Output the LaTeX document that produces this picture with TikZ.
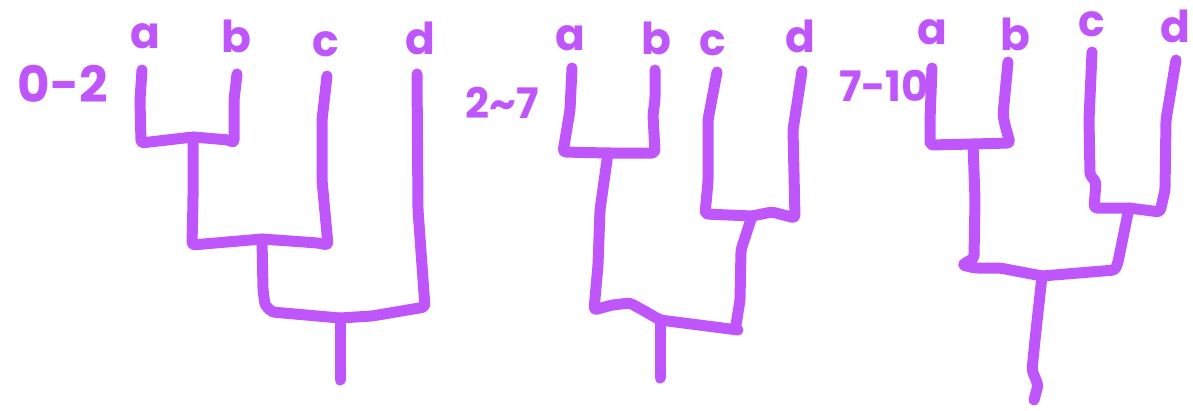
\documentclass[tikz,border=0pt]{standalone}
\usepackage{fontspec}
\setmainfont{Poppins}
\definecolor{pen}{RGB}{191,86,252}
\begin{document}
\begin{tikzpicture}[x=1pt,y=-1pt,
  stroke/.style={draw=pen,line width=11pt,line cap=round,line join=round,rounded corners=3pt},
  lbl/.style={text=pen,font=\bfseries\fontsize{44}{44}\selectfont,inner sep=0pt},
  rng/.style={text=pen,font=\bfseries\fontsize{42}{42}\selectfont,inner sep=0pt}]
\useasboundingbox (0,0) rectangle (1193,410);
% ---------- tree 1 ----------
\node[lbl] (a1) at (145,36) {a};
\node[lbl] (b1) at (236,36) {b};
\node[lbl] (c1) at (326,44) {c};
\node[lbl] (d1) at (420,38) {d};
\node[rng,font=\bfseries\fontsize{50}{50}\selectfont] (r1) at (63,84) {0-2};
\coordinate (a1t) at (142,70);
\coordinate (b1t) at (237,74);
\coordinate (c1t) at (327,76);
\coordinate (d1t) at (417,74);
\coordinate (ab1) at (193,137);
\coordinate (abc1) at (262,239);
\coordinate (root1) at (340,318);
\coordinate (root1e) at (340,380);
\draw[stroke] (a1t) -- (140,100) -- (141,143) -- (ab1) -- (229,140) -- (234,143) -- (234,100) -- (b1t);
\draw[stroke] (ab1) -- (193,200) -- (192,245) -- (abc1) -- (318,243) -- (328,245) -- (322,180) -- (322,120) -- (c1t);
\draw[stroke] (abc1) -- (263,290) -- (265,305) -- (272,312) -- (root1) -- (372,316) -- (425,307) -- (418,210) -- (d1t);
\draw[stroke] (root1) -- (root1e);
% ---------- tree 2 ----------
\node[lbl] (a2) at (570,38) {a};
\node[lbl] (b2) at (656,38) {b};
\node[lbl] (c2) at (713,43) {c};
\node[lbl] (d2) at (800,36) {d};
\node[rng] (r2) at (502,103) {2\string~7};
\coordinate (a2t) at (572,68);
\coordinate (b2t) at (655,70);
\coordinate (c2t) at (717,72);
\coordinate (d2t) at (802,71);
\coordinate (ab2) at (608,153);
\coordinate (cd2) at (752,216);
\coordinate (root2) at (660,320);
\coordinate (root2e) at (660,378);
\draw[stroke] (a2t) -- (570,110) -- (563,152) -- (ab2) -- (655,153) -- (653,115) -- (655,100) -- (b2t);
\draw[stroke] (c2t) -- (708,120) -- (708,182) -- (705,214) -- (cd2) -- (772,212) -- (795,218) -- (793,130) -- (d2t);
\draw[stroke] (ab2) -- (600,210) -- (598,265) -- (594,310) -- (612,305) -- (630,303) -- (648,313) -- (root2) -- (738,330);
\draw[stroke] (cd2) -- (741,250) -- (740,300) -- (736,325);
\draw[stroke] (root2) -- (root2e);
% ---------- tree 3 ----------
\node[lbl] (a3) at (932,32) {a};
\node[lbl] (b3) at (1015,34) {b};
\node[lbl] (c3) at (1092,24) {c};
\node[lbl] (d3) at (1175,26) {d};
\node[rng] (r3) at (884,86) {7-10};
\coordinate (a3t) at (932,68);
\coordinate (b3t) at (1008,62);
\coordinate (c3t) at (1092,52);
\coordinate (d3t) at (1176,60);
\coordinate (ab3) at (973,144);
\coordinate (cd3) at (1129,208);
\coordinate (root3) at (1042,276);
\coordinate (root3e) at (1034,400);
\draw[stroke] (a3t) -- (930,120) -- (930,145) -- (ab3) -- (1010,143) -- (1005,125) -- (1003,115) -- (b3t);
\draw[stroke] (c3t) -- (1089,120) -- (1090,175) -- (1096,182) -- (1094,208) -- (cd3) -- (1160,212) -- (1165,190) -- (1166,120) -- (d3t);
\draw[stroke] (ab3) -- (975,200) -- (974,258) -- (962,265) -- (975,268) -- (1000,268) -- (root3) -- (1115,270) -- (1118,262) -- (cd3);
\draw[stroke] (root3) -- (1035,340) -- (1032,370) -- (1038,385) -- (root3e);
\end{tikzpicture}
\end{document}
